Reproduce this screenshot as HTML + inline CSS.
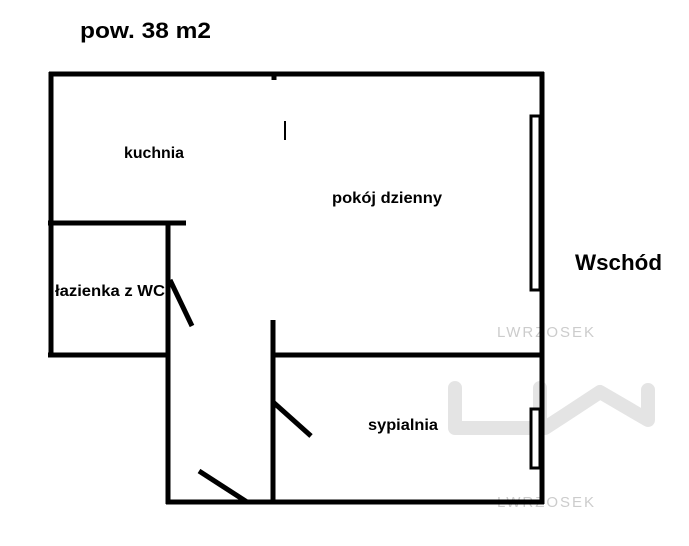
<!DOCTYPE html>
<html><head><style>
html,body{margin:0;padding:0;background:#fff;}
</style></head><body>
<svg width="689" height="546" xmlns="http://www.w3.org/2000/svg" style="display:block">
<rect width="689" height="546" fill="#fff"/>
<g fill="none" stroke="#e4e4e4" stroke-width="14" stroke-linecap="round" stroke-linejoin="round">
<polyline points="455,388 455,428 545,428 565,415 600,392 648,420 648,390"/>
<line x1="540" y1="388" x2="540" y2="420"/>
</g>
<g font-family="Liberation Sans, sans-serif" font-size="15" fill="#ccc" letter-spacing="2">
<text x="497" y="337">LWRZOSEK</text>
<text x="497" y="507">LWRZOSEK</text>
</g>
<g stroke="#000" stroke-width="5" fill="none">
<line x1="49" y1="74" x2="544" y2="74"/>
<line x1="51" y1="72" x2="51" y2="224"/>
<line x1="48" y1="223" x2="186" y2="223"/>
<line x1="51" y1="223" x2="51" y2="356"/>
<line x1="48" y1="355" x2="168" y2="355"/>
<line x1="168" y1="221" x2="168" y2="504"/>
<line x1="542" y1="72" x2="542" y2="504"/>
<line x1="166" y1="502" x2="544" y2="502"/>
<line x1="273" y1="320" x2="273" y2="504"/>
<line x1="273" y1="355" x2="544" y2="355"/>
<line x1="274" y1="74" x2="274" y2="80"/>
<line x1="170" y1="280" x2="192" y2="326"/>
<line x1="273" y1="402" x2="311" y2="436"/>
<line x1="199" y1="471" x2="247" y2="502"/>
</g>
<line x1="285" y1="121" x2="285" y2="140" stroke="#000" stroke-width="2"/>
<rect x="531" y="116" width="9" height="174" fill="#fff" stroke="#000" stroke-width="3"/>
<rect x="531" y="409" width="9" height="59" fill="#fff" stroke="#000" stroke-width="3"/>
<g font-family="Liberation Sans, sans-serif" font-weight="bold" fill="#000">
<text x="80" y="38" font-size="22" textLength="131" lengthAdjust="spacingAndGlyphs">pow. 38 m2</text>
<text x="575" y="270" font-size="22" textLength="87" lengthAdjust="spacingAndGlyphs">Wschód</text>
<text x="124" y="158" font-size="16" textLength="60" lengthAdjust="spacingAndGlyphs">kuchnia</text>
<text x="332" y="203" font-size="16" textLength="110" lengthAdjust="spacingAndGlyphs">pokój dzienny</text>
<text x="55" y="296" font-size="16" textLength="110" lengthAdjust="spacingAndGlyphs">łazienka z WC</text>
<text x="368" y="430" font-size="16" textLength="70" lengthAdjust="spacingAndGlyphs">sypialnia</text>
</g>
</svg>
</body></html>
